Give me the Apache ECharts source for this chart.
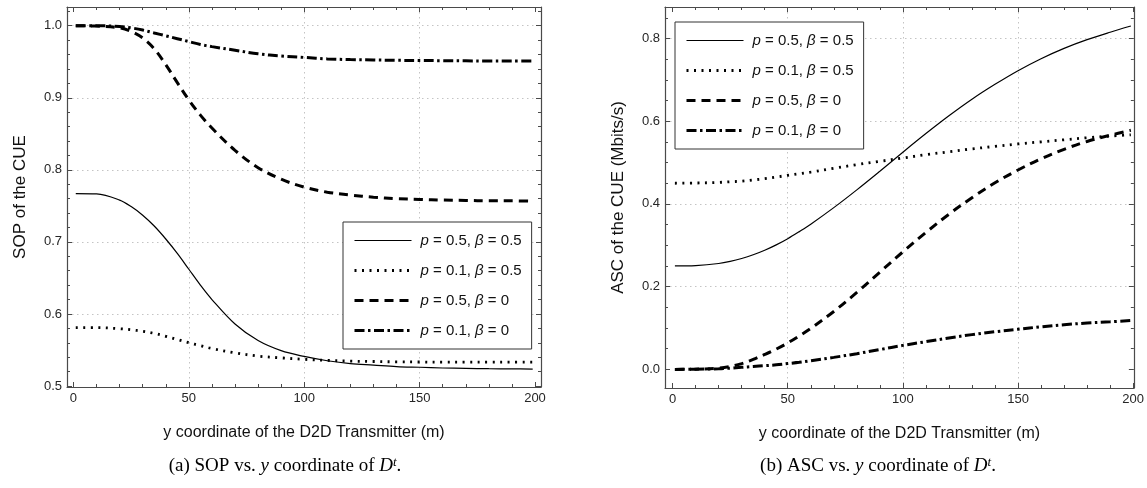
<!DOCTYPE html>
<html>
<head>
<meta charset="utf-8">
<script src="https://cdn.jsdelivr.net/npm/echarts@6/dist/echarts.min.js"></script>
<style>
html, body { margin: 0; padding: 0; background: #fff; }
#main { width: 1147px; height: 488px; }
</style>
</head>
<body>
<div id="main"></div>
<script>
// x positions of the sampled points (m)
var xs = [1, 10, 20, 25, 30, 35, 40, 45, 50, 55, 60, 70, 80, 90, 100, 110, 120, 130, 140, 150, 160, 170, 180, 190, 199];

// (a) SOP of the CUE
var sopA = [0.767, 0.7665, 0.758, 0.749, 0.737, 0.722, 0.704, 0.684, 0.662, 0.640, 0.620, 0.586, 0.563, 0.549, 0.541, 0.535, 0.531, 0.529, 0.527, 0.526, 0.525, 0.5245, 0.524, 0.5238, 0.5235];
var sopB = [0.581, 0.581, 0.5795, 0.578, 0.576, 0.573, 0.569, 0.5645, 0.560, 0.556, 0.552, 0.546, 0.5415, 0.539, 0.537, 0.5355, 0.5345, 0.534, 0.5335, 0.5333, 0.533, 0.533, 0.533, 0.533, 0.533];
var sopC = [1.0, 0.9995, 0.997, 0.992, 0.983, 0.968, 0.946, 0.921, 0.897, 0.876, 0.858, 0.827, 0.803, 0.787, 0.776, 0.769, 0.765, 0.762, 0.760, 0.759, 0.758, 0.7575, 0.757, 0.757, 0.7565];
var sopD = [1.0, 1.0, 0.999, 0.997, 0.994, 0.990, 0.986, 0.982, 0.978, 0.974, 0.971, 0.966, 0.961, 0.958, 0.956, 0.954, 0.953, 0.9525, 0.952, 0.9518, 0.9515, 0.9513, 0.951, 0.951, 0.951];

// (b) ASC of the CUE (Mbits/s)
var ascA = [0.25, 0.251, 0.256, 0.261, 0.268, 0.277, 0.288, 0.301, 0.316, 0.333, 0.351, 0.391, 0.434, 0.479, 0.525, 0.570, 0.613, 0.653, 0.689, 0.722, 0.751, 0.776, 0.797, 0.815, 0.830];
var ascB = [0.45, 0.4505, 0.452, 0.4535, 0.455, 0.458, 0.461, 0.465, 0.469, 0.473, 0.477, 0.486, 0.495, 0.503, 0.511, 0.519, 0.526, 0.533, 0.539, 0.545, 0.550, 0.555, 0.560, 0.564, 0.567];
var ascC = [0, 0.0005, 0.003, 0.007, 0.014, 0.024, 0.036, 0.049, 0.064, 0.081, 0.099, 0.140, 0.186, 0.235, 0.284, 0.331, 0.375, 0.415, 0.451, 0.482, 0.509, 0.532, 0.551, 0.566, 0.578];
var ascD = [0, 0.0003, 0.0015, 0.003, 0.005, 0.007, 0.009, 0.011, 0.014, 0.017, 0.021, 0.029, 0.038, 0.048, 0.058, 0.067, 0.076, 0.084, 0.091, 0.097, 0.103, 0.108, 0.112, 0.115, 0.118];

var names = ['p = 0.5, β = 0.5', 'p = 0.1, β = 0.5', 'p = 0.5, β = 0', 'p = 0.1, β = 0'];

var xTicks = [0, 50, 100, 150, 200];
var xGrid = [50, 100, 150];
var sopTicks = [0.5, 0.6, 0.7, 0.8, 0.9, 1.0];
var sopGrid = [0.6, 0.7, 0.8, 0.9, 1.0];
var ascTicks = [0.0, 0.2, 0.4, 0.6, 0.8];
var ascGrid = [0.2, 0.4, 0.6, 0.8];

var sans = 'Liberation Sans, Arial, sans-serif';
var serif = 'Liberation Serif, Times New Roman, serif';
var frameColor = '#4a4a4a';

var lineStyles = [
    { width: 1.2, type: 'solid' },
    { width: 2.8, type: [2, 5.5] },
    { width: 3, type: [9, 6] },
    { width: 3, type: [10, 3.5, 2.5, 3.5] }
];

function pairs(ys) {
    return xs.map(function (x, i) { return [x, ys[i]]; });
}

// frame axis: ticks inside, minor ticks, optional labels
function frameAxis(gridIndex, pos, min, max, ticks, minorSplit, label) {
    var ax = {
        type: 'value',
        gridIndex: gridIndex,
        position: pos,
        min: min,
        max: max,
        axisLine: { show: true, onZero: false, lineStyle: { color: frameColor, width: 1.2 } },
        axisTick: { show: true, inside: true, length: 5, customValues: ticks, lineStyle: { color: frameColor } },
        minorTick: { show: true, splitNumber: minorSplit, length: 3, lineStyle: { color: frameColor } },
        splitLine: { show: false },
        axisLabel: { show: false }
    };
    if (label) {
        ax.axisLabel = {
            show: true,
            customValues: ticks,
            color: '#262626',
            fontSize: 13,
            fontFamily: sans,
            margin: 5,
            formatter: label
        };
    }
    return ax;
}

// invisible axis used only for dotted grid lines
function gridAxis(gridIndex, min, max, values) {
    return {
        type: 'value',
        gridIndex: gridIndex,
        min: min,
        max: max,
        axisLine: { show: false },
        axisTick: { show: false, customValues: values },
        axisLabel: { show: false, customValues: values },
        splitLine: { show: true, lineStyle: { color: '#c4c4c4', width: 1, type: [1.5, 3.5] } }
    };
}

function fmtInt(v) { return String(Math.round(v)); }
function fmt1(v) { return v.toFixed(1); }

var xName = 'y coordinate of the D2D Transmitter (m)';
var nameStyleX = { fontSize: 16, fontFamily: sans, color: '#111' };
var nameStyleY = { fontSize: 17, fontFamily: sans, color: '#111' };

var xA = frameAxis(0, 'bottom', -2.8, 202.6, xTicks, 5, fmtInt);
xA.name = xName;
xA.nameLocation = 'middle';
xA.nameGap = 38;
xA.nameTextStyle = nameStyleX;
var xB = frameAxis(1, 'bottom', -3.3, 200.3, xTicks, 5, fmtInt);
xB.name = xName;
xB.nameLocation = 'middle';
xB.nameGap = 38;
xB.nameTextStyle = nameStyleX;

var yA = frameAxis(0, 'left', 0.4986, 1.026, sopTicks, 5, fmt1);
yA.name = 'SOP of the CUE';
yA.nameLocation = 'middle';
yA.nameGap = 38;
yA.nameTextStyle = nameStyleY;
var yB = frameAxis(1, 'left', -0.045, 0.876, ascTicks, 4, fmt1);
yB.name = 'ASC of the CUE (Mbits/s)';
yB.nameLocation = 'middle';
yB.nameGap = 38;
yB.nameTextStyle = nameStyleY;

var legendText = {
    fontSize: 15,
    fontFamily: sans,
    color: '#111',
    padding: [0, 0, 0, 4],
    rich: { i: { fontSize: 15, fontFamily: sans, fontStyle: 'italic', color: '#111' } }
};

function legendFmt(name) {
    return name.replace(/^p/, '{i|p}').replace('β', '{i|β}');
}

function makeLegend(left, top) {
    return {
        left: left,
        top: top,
        orient: 'vertical',
        itemWidth: 57,
        itemHeight: 14,
        itemGap: 15,
        padding: [11, 10, 11, 10],
        borderColor: '#333',
        borderWidth: 1,
        backgroundColor: '#fff',
        selectedMode: false,
        data: names,
        itemStyle: { opacity: 0, borderWidth: 0 },
        lineStyle: { width: 'inherit', type: 'inherit' },
        textStyle: legendText,
        formatter: legendFmt,
        z: 10
    };
}

var sopData = [sopA, sopB, sopC, sopD];
var ascData = [ascA, ascB, ascC, ascD];
var series = [];
names.forEach(function (n, i) {
    series.push({
        name: n, type: 'line', xAxisIndex: 0, yAxisIndex: 0,
        data: pairs(sopData[i]), showSymbol: false, symbol: 'none',
        smooth: 0.35,
        lineStyle: { color: '#000', width: lineStyles[i].width, type: lineStyles[i].type, cap: 'butt' },
        itemStyle: { color: '#000' }
    });
    series.push({
        name: n, type: 'line', xAxisIndex: 3, yAxisIndex: 3,
        data: pairs(ascData[i]), showSymbol: false, symbol: 'none',
        smooth: 0.35,
        lineStyle: { color: '#000', width: lineStyles[i].width, type: lineStyles[i].type, cap: 'butt' },
        itemStyle: { color: '#000' }
    });
});

function caption(x, text) {
    return {
        type: 'text',
        style: {
            x: x, y: 466,
            text: text,
            fill: '#000',
            font: '19px ' + serif,
            fontSize: 19, fontFamily: serif,
            textAlign: 'center', textVerticalAlign: 'middle',
            align: 'center', verticalAlign: 'middle',
            rich: {
                i: { fontSize: 19, fontFamily: serif, fontStyle: 'italic' },
                s: { fontSize: 13, fontFamily: serif, fontStyle: 'italic', verticalAlign: 'top' }
            }
        }
    };
}

var chart = echarts.init(document.getElementById('main'));
chart.setOption({
    backgroundColor: '#fff',
    animation: false,
    grid: [
        { left: 67, top: 7, width: 474, height: 380 },
        { left: 665, top: 7, width: 469, height: 381 }
    ],
    xAxis: [
        xA,
        frameAxis(0, 'top', -2.8, 202.6, xTicks, 5, null),
        gridAxis(0, -2.8, 202.6, xGrid),
        xB,
        frameAxis(1, 'top', -3.3, 200.3, xTicks, 5, null),
        gridAxis(1, -3.3, 200.3, xGrid)
    ],
    yAxis: [
        yA,
        frameAxis(0, 'right', 0.4986, 1.026, sopTicks, 5, null),
        gridAxis(0, 0.4986, 1.026, sopGrid),
        yB,
        frameAxis(1, 'right', -0.045, 0.876, ascTicks, 4, null),
        gridAxis(1, -0.045, 0.876, ascGrid)
    ],
    legend: [makeLegend(343, 222), makeLegend(675, 22)],
    series: series,
    graphic: [
        caption(285, '(a) SOP vs. {i|y} coordinate of {i|D}{s|t}.'),
        caption(878, '(b) ASC vs. {i|y} coordinate of {i|D}{s|t}.')
    ]
});
</script>
</body>
</html>
